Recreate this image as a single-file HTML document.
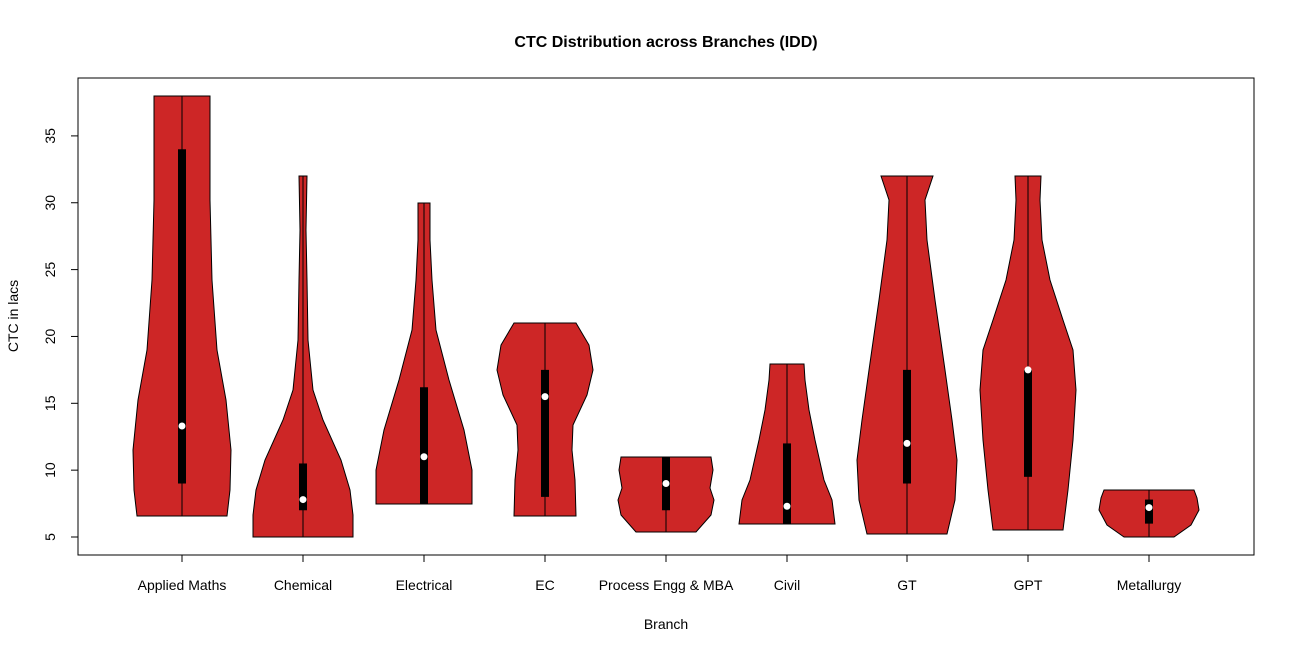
<!DOCTYPE html>
<html><head><meta charset="utf-8"><style>
html,body{margin:0;padding:0;background:#fff;}
svg{display:block;font-family:"Liberation Sans",Arial,sans-serif;}
</style></head><body>
<svg id="s" width="1294" height="653" xmlns="http://www.w3.org/2000/svg">
<rect width="1294" height="653" fill="#fff"/>
<text x="666" y="47" font-size="16" font-weight="bold" text-anchor="middle">CTC Distribution across Branches (IDD)</text>
<text x="666" y="629" font-size="14" text-anchor="middle">Branch</text>
<text transform="translate(18,316) rotate(-90)" font-size="14" text-anchor="middle">CTC in lacs</text>
<g id="v"></g>
<rect x="78" y="78" width="1176" height="477" fill="none" stroke="#000" stroke-width="1"/>
<g id="ax" stroke="#000" fill="none"></g>
<g id="lab" font-size="14"></g>
</svg>
<script>
const Y=v=>537-(v-5)*13.37;
const xs=[182,303,424,545,666,787,907,1028,1149];
const names=["Applied Maths","Chemical","Electrical","EC","Process Engg & MBA","Civil","GT","GPT","Metallurgy"];
// profiles: [y, halfwidth] bottom to top
const P=[
 [[516,45],[490,48],[450,49],[400,44],[350,35],[280,30],[200,28],[96,28]],
 [[537,50],[515,50],[490,47],[460,38],[420,20],[390,10],[340,5],[280,4],[230,3],[176,4]],
 [[504,48],[470,48],[430,40],[380,25],[330,12],[280,8],[240,6],[203,6]],
 [[516,31],[480,30],[450,27],[425,28],[395,42],[370,48],[345,44],[323,31]],
 [[532,30],[515,45],[500,48],[488,44],[470,47],[457,45]],
 [[524,48],[500,45],[480,37],[440,28],[410,22],[380,18],[364,17]],
 [[534,40],[500,48],[460,50],[420,45],[370,38],[300,28],[240,20],[200,18],[176,26]],
 [[530,35],[490,40],[440,45],[390,48],[350,45],[320,35],[280,22],[240,14],[200,12],[176,13]],
 [[537,25],[525,42],[510,50],[498,48],[490,45]]
];
const B=[[9,34,13.3],[7,10.5,7.8],[7.5,16.2,11],[8,17.5,15.5],[7,11,9],[6,12,7.3],[9,17.5,12],[9.5,17.5,17.5],[6,7.8,7.2]];
let h='';
P.forEach((p,i)=>{const x=xs[i];
 let pts=p.map(q=>(x-q[1])+','+q[0]);
 pts=pts.concat(p.slice().reverse().map(q=>(x+q[1])+','+q[0]));
 h+=`<polygon points="${pts.join(' ')}" fill="#cd2626" stroke="#000" stroke-width="1"/>`;
 const top=p[p.length-1][0],bot=p[0][0];
 h+=`<line x1="${x}" y1="${top}" x2="${x}" y2="${bot}" stroke="#000" stroke-width="1"/>`;
 const b=B[i];
 h+=`<rect x="${x-4}" y="${Y(b[1])}" width="8" height="${Y(b[0])-Y(b[1])}" fill="#000"/>`;
 h+=`<circle cx="${x}" cy="${Y(b[2])}" r="3.5" fill="#fff"/>`;
});
document.getElementById('v').innerHTML=h;
let a='<line x1="78" y1="537" x2="78" y2="136"/>';
let l='';
for(let v=5;v<=35;v+=5){const y=Y(v);a+=`<line x1="71" y1="${y}" x2="78" y2="${y}"/>`;
 l+=`<text transform="translate(55,${y}) rotate(-90)" text-anchor="middle">${v}</text>`;}
a+=`<line x1="182" y1="555" x2="1149" y2="555"/>`;
xs.forEach((x,i)=>{a+=`<line x1="${x}" y1="555" x2="${x}" y2="562"/>`;
 l+=`<text x="${x}" y="590" text-anchor="middle">${names[i].replace('&','&amp;')}</text>`;});
document.getElementById('ax').innerHTML=a;
document.getElementById('lab').innerHTML=l;
</script>
</body></html>
